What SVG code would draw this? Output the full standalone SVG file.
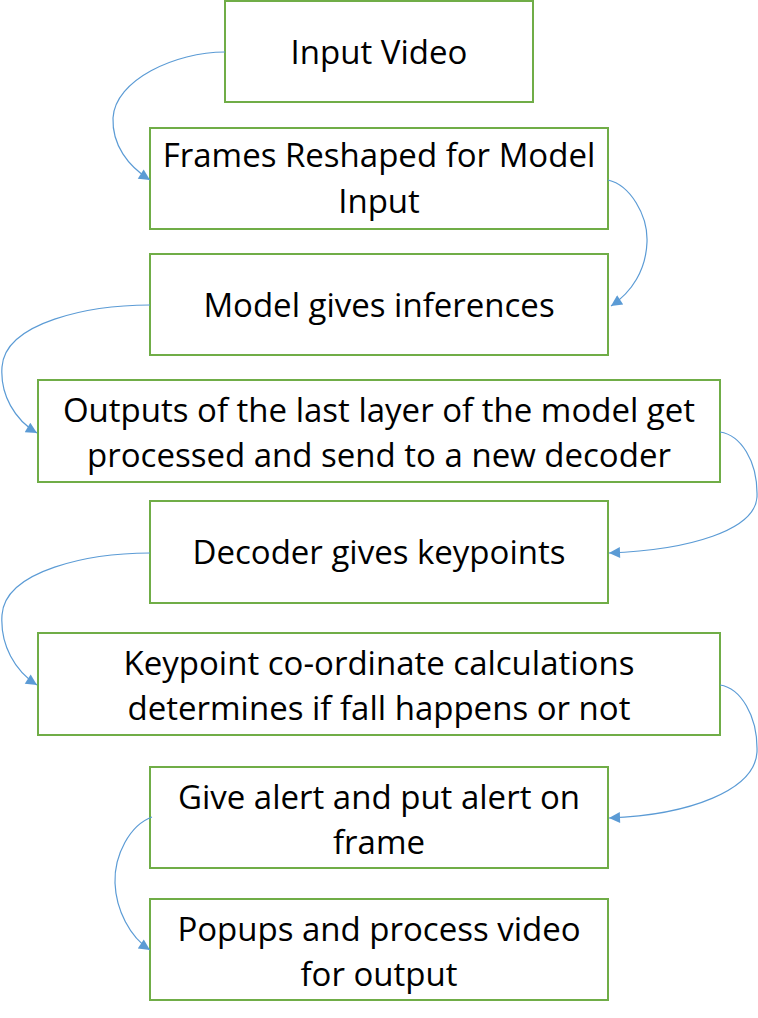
<svg xmlns="http://www.w3.org/2000/svg" width="758" height="1018" viewBox="0 0 758 1018">
<style>
.box{fill:#fff;stroke:#70AD47;stroke-width:2}
.t{font-family:"Open Sans","Liberation Sans",sans-serif;font-size:33px;fill:#000;text-anchor:middle}
.c{fill:none;stroke:#5B9BD5;stroke-width:1.2;marker-end:url(#ah)}
</style>
<defs>
<marker id="ah" viewBox="0 0 10 10" refX="10" refY="5" markerWidth="13" markerHeight="11" markerUnits="userSpaceOnUse" orient="auto">
<path d="M0,0 L10,5 L0,10 Z" fill="#5B9BD5"/>
</marker>
</defs>
<rect width="758" height="1018" fill="#fff"/>
<g id="n1"><rect class="box" x="225" y="1" width="308" height="101"/><text class="t" x="379" y="64">Input Video</text></g>
<g id="n2"><rect class="box" x="150" y="128" width="458" height="101"/><text class="t" x="379" y="167">Frames Reshaped for Model</text><text class="t" x="379" y="213">Input</text></g>
<g id="n3"><rect class="box" x="150" y="254" width="458" height="101"/><text class="t" x="379" y="317">Model gives inferences</text></g>
<g id="n4"><rect class="box" x="38" y="380" width="682" height="102"/><text class="t" x="379" y="422">Outputs of the last layer of the model get</text><text class="t" x="379" y="467">processed and send to a new decoder</text></g>
<g id="n5"><rect class="box" x="150" y="501" width="458" height="102"/><text class="t" x="379" y="564">Decoder gives keypoints</text></g>
<g id="n6"><rect class="box" x="38" y="633" width="682" height="102"/><text class="t" x="379" y="675">Keypoint co-ordinate calculations</text><text class="t" x="379" y="720">determines if fall happens or not</text></g>
<g id="n7"><rect class="box" x="150" y="767" width="458" height="101"/><text class="t" x="379" y="809">Give alert and put alert on</text><text class="t" x="379" y="854">frame</text></g>
<g id="n8"><rect class="box" x="150" y="899" width="458" height="101"/><text class="t" x="379" y="941">Popups and process video</text><text class="t" x="379" y="986">for output</text></g>
<g id="connectors">
<path class="c" d="M225,52 C175,52 115,80 113,118 C112,145 128,166 150,180"/>
<path class="c" d="M608,180 C630,185 648,215 647,242 C646,270 632,292 611,306"/>
<path class="c" d="M150,305 C90,305 5,322 2,367 C0,395 15,420 37,433"/>
<path class="c" d="M720,432 C740,435 758,460 757,497 C755,530 690,550 609,553"/>
<path class="c" d="M150,553 C90,553 5,570 2,615 C0,645 15,671 37,685"/>
<path class="c" d="M720,685 C740,688 758,715 757,752 C755,790 690,815 609,818"/>
<path class="c" d="M152,817 C130,825 114,855 115,883 C116,910 130,937 150,950"/>
</g>
</svg>
